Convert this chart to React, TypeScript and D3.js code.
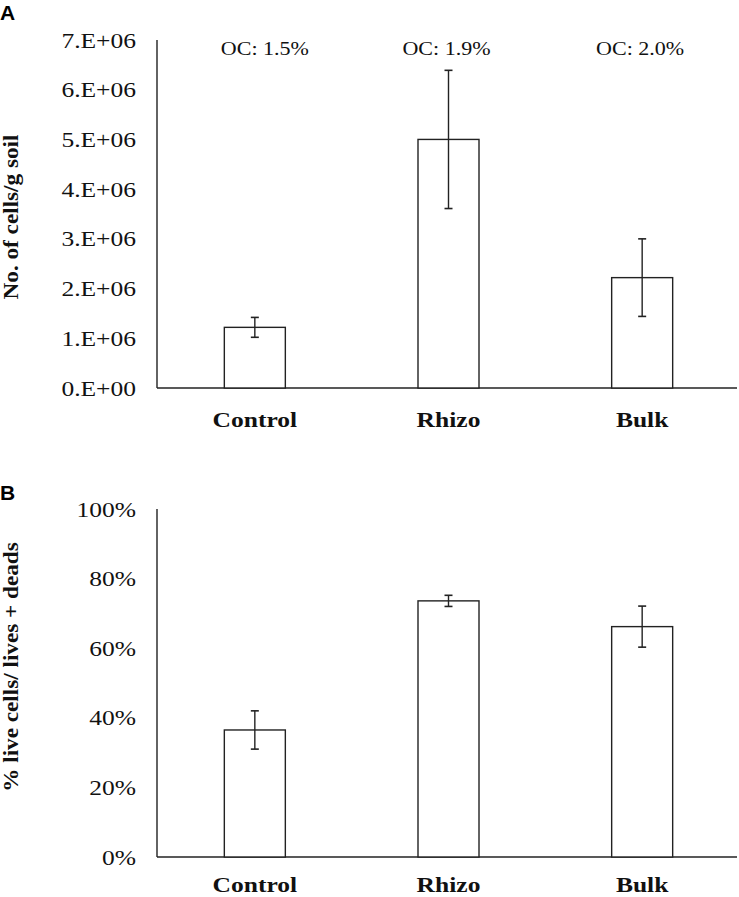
import React from "react";
import * as d3 from "d3";

const categories = ["Control", "Rhizo", "Bulk"];
const cellsMean = [1.22e6, 5.0e6, 2.22e6];
const cellsErr = [0.2e6, 1.39e6, 0.78e6];
const liveMean = [36.5, 73.6, 66.2];
const liveErr = [5.5, 1.6, 5.9];
const ocLabels = ["OC: 1.5%", "OC: 1.9%", "OC: 2.0%"];
const cellsTicks = [0, 1e6, 2e6, 3e6, 4e6, 5e6, 6e6, 7e6];
const liveTicks = [0, 20, 40, 60, 80, 100];

const W = 739;
const H = 897;
const SERIF = "'Liberation Serif', 'Times New Roman', serif";
const SANS = "'Liberation Sans', Arial, sans-serif";
const SX = 1.16;
const LINE = "#222";

const x = d3.scaleBand<string>().domain(categories).range([158, 739]).padding(0);
const barW = x.bandwidth() * 0.315;
const cx = (c: string) => (x(c) as number) + x.bandwidth() / 2;

const yA = d3.scaleLinear().domain([0, 7e6]).range([388, 40]);
const yB = d3.scaleLinear().domain([0, 100]).range([857, 509]);

const fmtA = (v: number) => (v === 0 ? "0.E+00" : `${v / 1e6}.E+06`);
const fmtB = (v: number) => `${v}%`;

function Panel({
  y,
  mean,
  err,
  ticks,
  fmt,
  title,
  titleY,
  catY,
}: {
  y: d3.ScaleLinear<number, number>;
  mean: number[];
  err: number[];
  ticks: number[];
  fmt: (v: number) => string;
  title: string;
  titleY: number;
  catY: number;
}) {
  const [y0, y1] = y.range();
  return (
    <g>
      {ticks.map((t) => (
        <text
          key={t}
          transform={`translate(136, ${y(t) + 7.5}) scale(${SX},1)`}
          textAnchor="end"
          fontFamily={SERIF}
          fontSize={22}
          fill="#111"
        >
          {fmt(t)}
        </text>
      ))}
      <line x1={157} x2={157} y1={y1} y2={y0} stroke={LINE} strokeWidth={1.4} />
      <line x1={157} x2={737} y1={y0} y2={y0} stroke={LINE} strokeWidth={1.4} />
      {categories.map((c, i) => {
        const m = cx(c);
        return (
          <g key={c}>
            <rect
              x={m - barW / 2}
              y={y(mean[i])}
              width={barW}
              height={y(0) - y(mean[i])}
              fill="#fff"
              stroke={LINE}
              strokeWidth={1.4}
            />
            <line x1={m} x2={m} y1={y(mean[i] + err[i])} y2={y(mean[i] - err[i])} stroke={LINE} strokeWidth={1.4} />
            <line x1={m - 4} x2={m + 4} y1={y(mean[i] + err[i])} y2={y(mean[i] + err[i])} stroke={LINE} strokeWidth={1.6} />
            <line x1={m - 4} x2={m + 4} y1={y(mean[i] - err[i])} y2={y(mean[i] - err[i])} stroke={LINE} strokeWidth={1.6} />
            <text
              transform={`translate(${m}, ${catY}) scale(${SX},1)`}
              textAnchor="middle"
              fontFamily={SERIF}
              fontWeight="bold"
              fontSize={22}
              fill="#111"
            >
              {c}
            </text>
          </g>
        );
      })}
      <text
        transform={`translate(18, ${titleY}) rotate(-90) scale(${SX},1)`}
        textAnchor="middle"
        fontFamily={SERIF}
        fontWeight="bold"
        fontSize={20}
        fill="#111"
      >
        {title}
      </text>
    </g>
  );
}

export default function App() {
  return (
    <svg
      width={W}
      height={H}
      viewBox={`0 0 ${W} ${H}`}
      style={{ position: "absolute", left: 0, top: 0, background: "#fff" }}
    >
      <rect x={0} y={0} width={W} height={H} fill="#fff" />
      <text x={0} y={20} fontFamily={SANS} fontWeight="bold" fontSize={21} fill="#000">
        A
      </text>
      <text x={0} y={500} fontFamily={SANS} fontWeight="bold" fontSize={21} fill="#000">
        B
      </text>
      <Panel
        y={yA}
        mean={cellsMean}
        err={cellsErr}
        ticks={cellsTicks}
        fmt={fmtA}
        title="No. of cells/g soil"
        titleY={217}
        catY={427}
      />
      {categories.map((c, i) => (
        <text
          key={c}
          transform={`translate(${cx(c) + (i === 0 ? 10 : -2)}, 55) scale(${SX},1)`}
          textAnchor="middle"
          fontFamily={SERIF}
          fontSize={19}
          fill="#111"
        >
          {ocLabels[i]}
        </text>
      ))}
      <Panel
        y={yB}
        mean={liveMean}
        err={liveErr}
        ticks={liveTicks}
        fmt={fmtB}
        title="% live cells/ lives + deads"
        titleY={667}
        catY={892}
      />
    </svg>
  );
}
